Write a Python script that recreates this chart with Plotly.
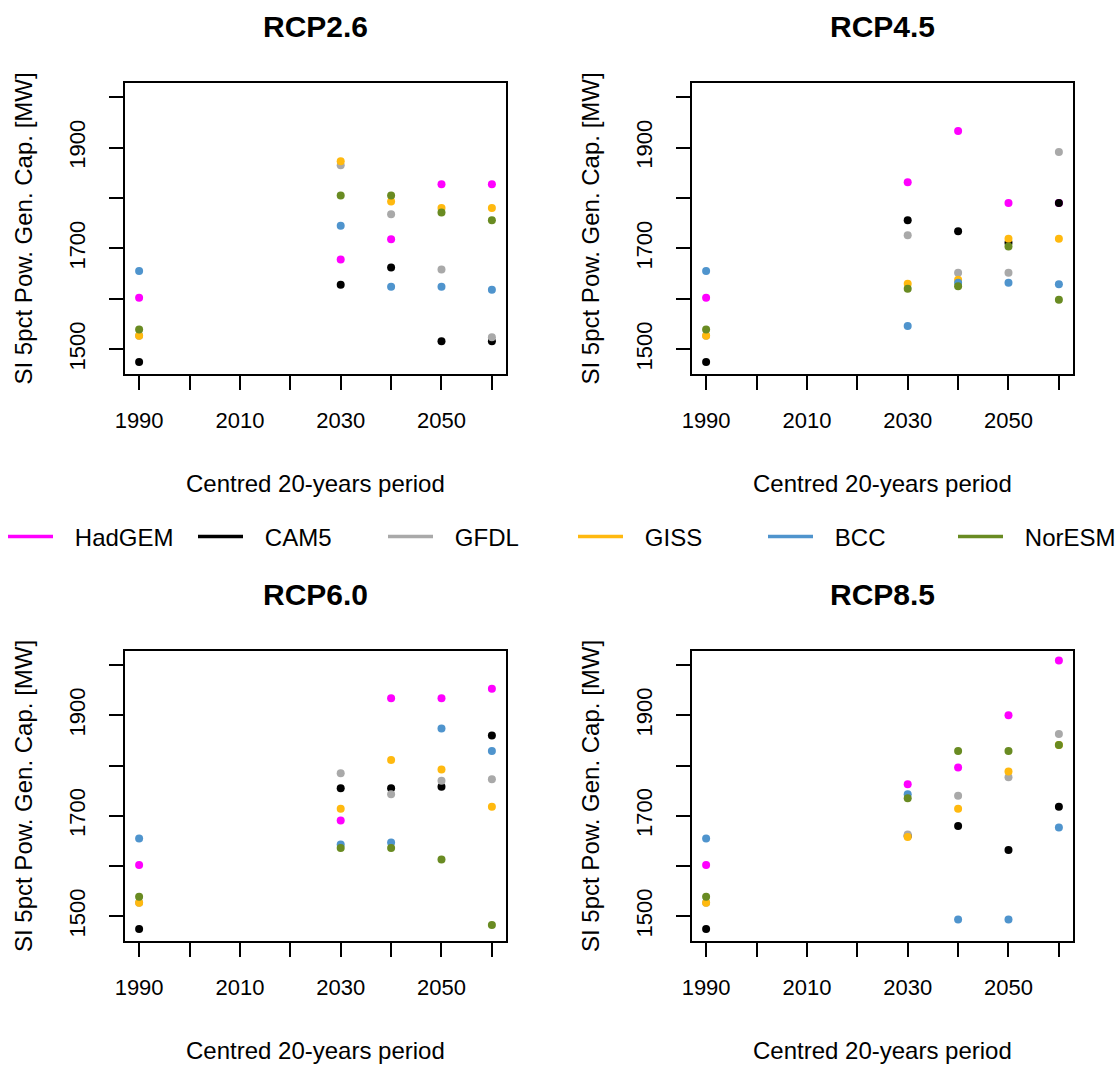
import plotly.graph_objects as go

# Centred 20-year periods
periods = [1990, 2030, 2040, 2050, 2060]

models = ["HadGEM", "CAM5", "GFDL", "GISS", "BCC", "NorESM"]
colors = ["#FF00FF", "#000000", "#A9A9A9", "#FFB90F", "#4F94CD", "#698B22"]

scenarios = ["RCP2.6", "RCP4.5", "RCP6.0", "RCP8.5"]

# SI 5pct power generation capacity [MW], one list per model and scenario
rcp26 = {
    "HadGEM": [1602, 1678, 1718, 1827, 1827],
    "CAM5":   [1475, 1628, 1662, 1516, 1516],
    "GFDL":   [1527, 1865, 1768, 1658, 1524],
    "GISS":   [1527, 1873, 1793, 1780, 1780],
    "BCC":    [1655, 1745, 1624, 1624, 1618],
    "NorESM": [1539, 1805, 1805, 1771, 1756],
}
rcp45 = {
    "HadGEM": [1602, 1831, 1933, 1790, 1790],
    "CAM5":   [1475, 1756, 1734, 1711, 1790],
    "GFDL":   [1527, 1726, 1652, 1652, 1891],
    "GISS":   [1527, 1630, 1638, 1719, 1719],
    "BCC":    [1655, 1546, 1632, 1632, 1629],
    "NorESM": [1539, 1620, 1625, 1704, 1598],
}
rcp60 = {
    "HadGEM": [1602, 1691, 1934, 1934, 1953],
    "CAM5":   [1475, 1755, 1755, 1758, 1860],
    "GFDL":   [1527, 1785, 1743, 1770, 1773],
    "GISS":   [1527, 1714, 1811, 1792, 1718],
    "BCC":    [1655, 1643, 1647, 1874, 1829],
    "NorESM": [1539, 1636, 1636, 1613, 1483],
}
rcp85 = {
    "HadGEM": [1602, 1763, 1796, 1900, 2009],
    "CAM5":   [1475, 1660, 1680, 1632, 1718],
    "GFDL":   [1527, 1663, 1740, 1777, 1863],
    "GISS":   [1527, 1658, 1714, 1788, 1841],
    "BCC":    [1655, 1743, 1494, 1494, 1677],
    "NorESM": [1539, 1735, 1829, 1829, 1841],
}
scenario_data = [rcp26, rcp45, rcp60, rcp85]

x_ticks = [1990, 2000, 2010, 2020, 2030, 2040, 2050, 2060]
x_ticktext = ["1990", "", "2010", "", "2030", "", "2050", ""]
y_ticks = [1500, 1600, 1700, 1800, 1900, 2000]
y_ticktext = ["1500", "", "1700", "", "1900", ""]

W, H = 1120, 1066
FONT = "Liberation Sans, Arial, sans-serif"

# panel boxes in pixels: (left, right, top, bottom)
boxes = [
    (125, 506, 83, 374),
    (692, 1073, 83, 374),
    (125, 506, 651, 941),
    (692, 1073, 651, 941),
]

fig = go.Figure()
annotations = []

for i, (scen, data) in enumerate(zip(scenarios, scenario_data)):
    l, r, t, b = boxes[i]
    xa = "xaxis" if i == 0 else f"xaxis{i + 1}"
    ya = "yaxis" if i == 0 else f"yaxis{i + 1}"
    xref = "x" if i == 0 else f"x{i + 1}"
    yref = "y" if i == 0 else f"y{i + 1}"

    for m, c in zip(models, colors):
        fig.add_trace(go.Scatter(
            x=periods, y=data[m], mode="markers",
            marker=dict(color=c, size=8, line=dict(width=0)),
            xaxis=xref, yaxis=yref, showlegend=False, name=m,
        ))

    common = dict(
        showline=True, linecolor="#000000", linewidth=1.5, mirror=True,
        ticks="outside", ticklen=14, tickwidth=1.5, tickcolor="#000000",
        showgrid=False, zeroline=False, automargin=False,
        tickfont=dict(family=FONT, size=22, color="#000000"),
    )
    fig.layout[xa] = dict(
        common, domain=[l / W, r / W], range=[1987.2, 2062.8],
        tickvals=x_ticks, ticktext=x_ticktext, anchor=yref,
        ticklabelstandoff=12,
    )
    fig.layout[ya] = dict(
        common, domain=[1 - b / H, 1 - t / H], range=[1451, 2028],
        tickvals=y_ticks, ticktext=y_ticktext, anchor=xref,
        tickangle=-90, ticklabelstandoff=15,
    )

    cx = (l + r) / 2
    cy = (t + b) / 2
    # panel title
    annotations.append(dict(
        text=f"<b>{scen}</b>", x=cx / W, y=1 - (t - 57) / H,
        xref="paper", yref="paper", showarrow=False,
        xanchor="center", yanchor="middle",
        font=dict(family=FONT, size=30, color="#000000"),
    ))
    # x-axis title
    annotations.append(dict(
        text="Centred 20-years period", x=cx / W, y=1 - (b + 109) / H,
        xref="paper", yref="paper", showarrow=False,
        xanchor="center", yanchor="middle",
        font=dict(family=FONT, size=24, color="#000000"),
    ))
    # y-axis title
    annotations.append(dict(
        text="SI 5pct Pow. Gen. Cap. [MW]", x=(l - 102) / W, y=1 - cy / H,
        xref="paper", yref="paper", showarrow=False, textangle=-90,
        xanchor="center", yanchor="middle",
        font=dict(family=FONT, size=24, color="#000000"),
    ))

# legend entries drawn as line samples; the last one goes in a second
# legend box so the single row does not wrap
for k, (m, c) in enumerate(zip(models, colors)):
    fig.add_trace(go.Scatter(
        x=[None], y=[None], mode="lines", name="\u2002\u2009" + m,
        line=dict(color=c, width=3.5), showlegend=True,
        legend="legend2" if k == len(models) - 1 else "legend",
    ))

legend_style = dict(
    orientation="h", xanchor="left",
    y=1 - 537 / H, yanchor="middle",
    font=dict(family=FONT, size=24, color="#000000"),
    entrywidth=130, entrywidthmode="pixels",
    itemwidth=45, bgcolor="rgba(0,0,0,0)",
)

fig.update_layout(
    width=W, height=H,
    margin=dict(l=0, r=0, t=0, b=0, autoexpand=False),
    paper_bgcolor="#FFFFFF", plot_bgcolor="#FFFFFF",
    annotations=annotations,
    showlegend=True,
    legend=dict(legend_style, x=3 / W),
    legend2=dict(legend_style, x=(3 + 950) / W),
)

fig.write_html("out.html")
